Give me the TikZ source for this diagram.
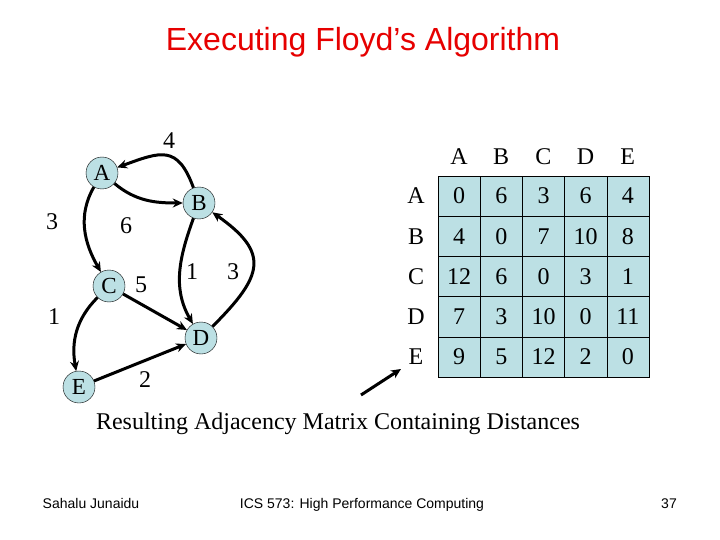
\documentclass[tikz,border=0pt]{standalone}
\usepackage{fontspec}
\setmainfont{Liberation Serif}
\newfontfamily\arial{Liberation Sans}
\usetikzlibrary{arrows.meta}
\definecolor{cellblue}{RGB}{188,224,228}
\definecolor{titlered}{RGB}{230,0,0}
\begin{document}
\begin{tikzpicture}[x=1pt,y=-1pt,
  vert/.style={circle,draw=black,fill=cellblue,minimum size=32pt,inner sep=0pt,font=\fontsize{23}{25}\selectfont},
  lbl/.style={font=\fontsize{24}{26}\selectfont},
  edge/.style={line width=3pt,-{Stealth[length=10pt,width=9pt]}},
  foot/.style={font=\arial\fontsize{14}{16}\selectfont,anchor=base},
  cell/.style={draw=black,fill=cellblue,minimum width=42.2pt,minimum height=40.2pt,inner sep=0pt,font=\fontsize{24}{26}\selectfont}]
\useasboundingbox (0,0) rectangle (720,540);
\node[font=\arial\fontsize{32}{34}\selectfont,text=titlered] (title) at (363,42) {Executing Floyd’s Algorithm};
\node[vert] (A) at (102,173) {A};
\node[vert] (B) at (199,203) {B};
\node[vert] (C) at (109,286) {C};
\node[vert] (D) at (201,338) {D};
\node[vert] (E) at (79,387) {E};
\draw[edge] (B) to[out=110,in=20,looseness=1.5] (A);
\draw[edge] (A) to[out=-40,in=180] (B);
\draw[edge] (A) to[out=-120,in=120] (C);
\draw[edge] (C) to[out=-135,in=100] (E);
\draw[edge] (C) -- (D);
\draw[edge] (E) -- (D);
\draw[edge] (B) to[out=-110,in=120] (D);
\draw[edge] (D) to[out=45,in=-35,looseness=1.6] (B);
\node[lbl] (w4) at (169,141) {4};
\node[lbl] (w3) at (52,222) {3};
\node[lbl] (w6) at (126,226) {6};
\node[lbl] (w5) at (141,285) {5};
\node[lbl] (w1) at (54,317) {1};
\node[lbl] (w1b) at (192,272) {1};
\node[lbl] (w3b) at (233,272) {3};
\node[lbl] (w2) at (145,380) {2};
\foreach \n [count=\i from 0] in {A,B,C,D,E}{
  \node[lbl] (h\n) at (459+42.2*\i,157) {\n};
  \node[lbl] (r\n) at (416,196+40.2*\i) {\n};
}
\foreach \row [count=\r from 0] in {{0,6,3,6,4},{4,0,7,10,8},{12,6,0,3,1},{7,3,10,0,11},{9,5,12,2,0}}{
  \foreach \v [count=\c from 0] in \row {
    \node[cell] (m\r\c) at (459.1+42.2*\c,196.1+40.2*\r) {\v};
  }
}
\coordinate (ps) at (361,395);
\coordinate (pe) at (401,369);
\draw[edge] (ps) -- (pe);
\node[lbl] (cap) at (338,424) {Resulting Adjacency Matrix Containing Distances};
\node[foot] (f1) at (91,508) {Sahalu Junaidu};
\node[foot] (f2) at (362,508) {ICS 573: High Performance Computing};
\node[foot] (f3) at (669,508) {37};
\end{tikzpicture}
\end{document}
